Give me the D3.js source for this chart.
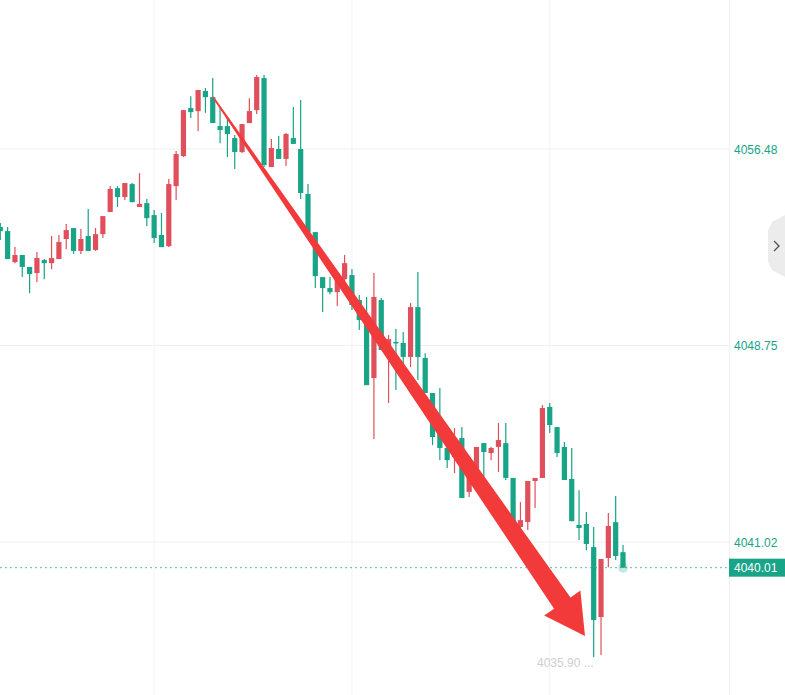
<!DOCTYPE html>
<html><head><meta charset="utf-8">
<script src="https://cdn.jsdelivr.net/npm/d3@7"></script>
<style>body{margin:0;background:#fff}svg{display:block}</style>
</head><body>
<svg id="c" width="785" height="695"></svg>
<script>
// OHLC arrays (price)
const opens  = [4053.41,4053.25,4052.03,4052.31,4051.84,4051.60,4052.11,4051.99,4052.15,4052.94,4053.37,4052.47,4053.06,4052.51,4053.13,4054.00,4054.94,4054.59,4055.10,4054.20,4054.35,4053.88,4053.10,4052.66,4055.02,4056.20,4058.09,4057.97,4058.76,4058.52,4057.38,4057.38,4056.91,4056.36,4057.50,4058.01,4059.27,4055.77,4056.48,4056.09,4056.91,4056.48,4054.71,4053.21,4051.44,4051.01,4050.85,4051.36,4051.52,4050.54,4049.63,4047.47,4050.54,4048.57,4048.89,4048.85,4048.30,4050.26,4048.26,4046.88,4045.74,4044.72,4044.36,4045.11,4042.99,4043.18,4044.91,4044.52,4044.76,4044.91,4043.54,4041.61,4041.81,4043.42,4043.54,4046.33,4045.54,4044.76,4043.50,4041.69,4041.73,4040.82,4038.07,4040.39,4041.80,4040.62];
const highs  = [4053.57,4053.41,4052.62,4052.31,4051.84,4052.43,4052.15,4053.06,4053.10,4053.53,4053.37,4053.33,4054.12,4053.37,4053.84,4055.02,4055.02,4055.14,4055.14,4055.53,4054.51,4054.08,4053.96,4055.30,4056.40,4058.01,4058.56,4058.80,4058.88,4059.27,4058.13,4057.70,4057.03,4057.46,4058.48,4059.39,4059.39,4056.87,4056.99,4057.11,4058.13,4058.41,4055.10,4053.21,4051.44,4051.44,4051.36,4052.31,4051.76,4050.74,4050.66,4051.60,4050.62,4049.16,4049.40,4049.28,4050.42,4051.64,4048.45,4046.88,4047.08,4045.03,4045.50,4045.54,4043.97,4044.76,4044.91,4044.76,4045.70,4045.70,4043.54,4042.59,4043.42,4043.54,4046.41,4046.49,4045.54,4044.95,4044.72,4043.06,4042.20,4041.61,4040.35,4042.16,4042.83,4040.90];
const lows   = [4052.90,4052.15,4051.99,4051.44,4050.81,4051.25,4051.36,4051.76,4052.15,4052.54,4052.35,4052.35,4052.47,4052.47,4052.98,4054.00,4054.20,4054.47,4054.39,4054.20,4053.45,4052.78,4052.62,4052.62,4054.47,4056.16,4057.70,4057.19,4057.90,4057.50,4056.71,4056.16,4055.69,4056.32,4057.50,4057.86,4055.77,4055.77,4056.09,4055.81,4056.68,4054.51,4053.21,4051.01,4050.07,4050.77,4050.30,4051.13,4050.15,4049.36,4047.19,4045.07,4048.57,4046.49,4047.00,4047.90,4047.90,4047.39,4046.88,4044.83,4044.24,4043.93,4043.73,4042.75,4042.79,4043.18,4043.46,4044.24,4043.77,4043.46,4041.49,4041.49,4041.49,4042.36,4043.54,4045.31,4044.36,4043.46,4041.84,4041.10,4040.70,4036.49,4036.57,4040.03,4040.31,4040.01];
const closes = [4053.25,4052.15,4052.31,4051.84,4051.56,4052.19,4051.99,4052.19,4052.82,4053.29,4052.47,4052.94,4052.47,4053.13,4053.84,4054.91,4054.59,4055.14,4054.39,4054.32,4053.76,4052.98,4052.62,4055.10,4056.28,4058.01,4057.93,4058.80,4058.52,4057.50,4057.23,4057.07,4056.36,4057.46,4057.97,4059.31,4055.85,4056.52,4056.09,4057.07,4056.68,4054.75,4053.21,4051.48,4051.01,4050.85,4051.36,4051.99,4050.34,4049.75,4047.19,4050.66,4048.57,4049.00,4048.85,4048.30,4050.26,4048.30,4046.88,4045.15,4044.72,4044.24,4044.95,4042.75,4043.97,4044.76,4044.56,4044.72,4045.03,4043.54,4041.61,4041.88,4043.42,4043.54,4046.29,4045.62,4044.52,4043.46,4041.84,4041.57,4040.94,4037.95,4040.35,4041.65,4040.47,4040.01];
const tickValues = [4056.48, 4048.75, 4041.02];
const lastPrice = 4040.01;
const lowLabel = "4035.90";

const svg = d3.select("#c");
const UP = "#e0505c", DOWN = "#17a487", AXIS = "#17a487";
const y = d3.scaleLinear().domain([4056.48, 4041.02]).range([149, 542]);
const x = d3.scaleLinear().domain([0, opens.length - 1]).range([0.3, 623]);

// grid
const g = svg.append("g");
g.selectAll("line.h").data(tickValues).join("line")
  .attr("x1", 0).attr("x2", 729).attr("y1", d => y(d)).attr("y2", d => y(d))
  .attr("stroke", "#f0f0f0");
[21, 48, 75].forEach(i => g.append("line")
  .attr("x1", x(i)).attr("x2", x(i)).attr("y1", 0).attr("y2", 695).attr("stroke", "#f3f3f3"));
g.append("line").attr("x1", 729.5).attr("x2", 729.5).attr("y1", 0).attr("y2", 695).attr("stroke", "#f0f0f0");

// right axis labels
svg.selectAll("text.t").data(tickValues).join("text")
  .attr("x", 734).attr("y", d => y(d) + 4.5).text(d => d.toFixed(2))
  .attr("fill", AXIS).attr("font-family", "Arial, Liberation Sans, sans-serif").attr("font-size", 12);

// candles
const idx = d3.range(opens.length);
const cg = svg.append("g");
cg.selectAll("line.w").data(idx).join("line")
  .attr("x1", i => x(i)).attr("x2", i => x(i))
  .attr("y1", i => y(highs[i])).attr("y2", i => y(lows[i]))
  .attr("stroke", i => closes[i] >= opens[i] ? UP : DOWN).attr("stroke-width", 1.2);
cg.selectAll("rect").data(idx).join("rect")
  .attr("x", i => x(i) - 2.6).attr("width", 5.2)
  .attr("y", i => y(Math.max(opens[i], closes[i])))
  .attr("height", i => Math.max(1.5, Math.abs(y(opens[i]) - y(closes[i]))))
  .attr("fill", i => closes[i] >= opens[i] ? UP : DOWN);

// last price line and label
svg.append("line").attr("x1", 0).attr("x2", 729).attr("y1", y(lastPrice)).attr("y2", y(lastPrice))
  .attr("stroke", AXIS).attr("stroke-width", 1).attr("stroke-dasharray", "2,3").attr("opacity", 0.7);
svg.append("circle").attr("cx", x(opens.length - 1)).attr("cy", y(lastPrice)).attr("r", 5).attr("fill", AXIS).attr("opacity", 0.25);
svg.append("rect").attr("x", 729).attr("y", y(lastPrice) - 9).attr("width", 56).attr("height", 18).attr("fill", AXIS);
svg.append("text").attr("x", 734).attr("y", y(lastPrice) + 4.5).text(lastPrice.toFixed(2))
  .attr("fill", "#fff").attr("font-family", "Arial, Liberation Sans, sans-serif").attr("font-size", 12);

// blurred low label
svg.append("text").attr("x", 537).attr("y", 667).text(lowLabel + " ...")
  .attr("fill", "#bbb").attr("font-family", "Arial, Liberation Sans, sans-serif").attr("font-size", 12).attr("opacity", 0.7);

// side tab
svg.append("path").attr("d", "M785,215 L772,222 L768,230 L768,262 L772,270 L785,277 Z").attr("fill", "#ececec");
svg.append("path").attr("d", "M774,241 L779,246 L774,251").attr("fill", "none").attr("stroke", "#555").attr("stroke-width", 1.4);

// red arrow annotation
const s = [213, 97], tip = [585, 636];
const dx = tip[0] - s[0], dy = tip[1] - s[1], L = Math.hypot(dx, dy);
const ux = dx / L, uy = dy / L, nx = uy, ny = -ux;
const be = [tip[0] - 40 * ux, tip[1] - 40 * uy];
const pts = [
  [s[0] + nx * 0.8, s[1] + ny * 0.8],
  [be[0] + nx * 10, be[1] + ny * 10],
  [be[0] + nx * 22, be[1] + ny * 22],
  tip,
  [be[0] - nx * 22, be[1] - ny * 22],
  [be[0] - nx * 10, be[1] - ny * 10],
  [s[0] - nx * 0.8, s[1] - ny * 0.8]
];
svg.append("path").attr("d", d3.line()(pts) + "Z").attr("fill", "#f23a3a");
</script>
</body></html>
